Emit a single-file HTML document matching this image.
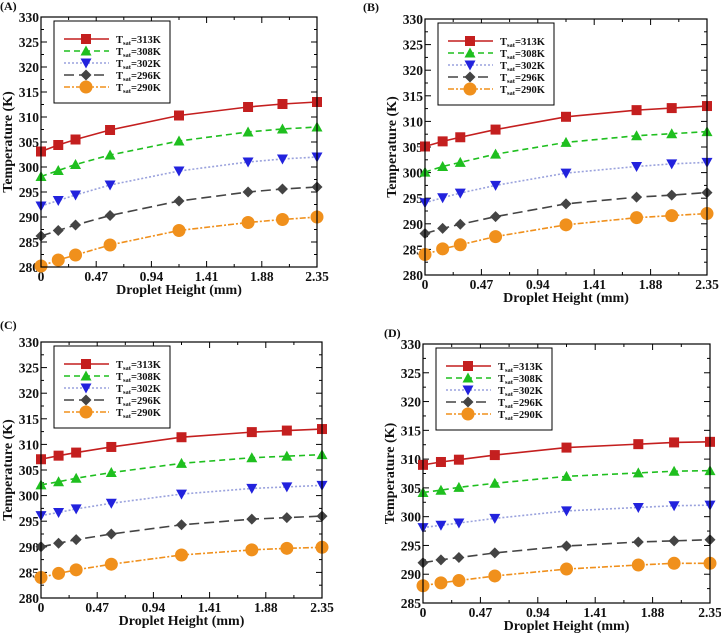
<!DOCTYPE html>
<html><head><meta charset="utf-8"><style>
html,body{margin:0;padding:0;background:#fff;}
svg{display:block;}
text{font-family:"Liberation Serif",serif;font-weight:bold;fill:#111;}
</style></head><body>
<svg id="fig" width="721" height="633" viewBox="0 0 721 633" xmlns="http://www.w3.org/2000/svg"></svg>
<script>
const xValues = [0, 0.147, 0.294, 0.588, 1.175, 1.763, 2.056, 2.35];
const xTicks = [0, 0.47, 0.94, 1.41, 1.88, 2.35];
const xTickLabels = ["0", "0.47", "0.94", "1.41", "1.88", "2.35"];
const seriesNames = ["313K", "308K", "302K", "296K", "290K"];
const panelLabels = ["(A)", "(B)", "(C)", "(D)"];
const panelYMin = [280, 280, 280, 285];
const panelYMax = [330, 330, 330, 330];
const panelA = [
 [303.1,304.4,305.5,307.4,310.3,312,312.6,313],
 [298.1,299.3,300.5,302.4,305.2,307,307.6,308],
 [292.2,293.3,294.4,296.4,299.2,301,301.6,302],
 [286.2,287.3,288.4,290.3,293.2,295,295.6,296],
 [280.2,281.4,282.4,284.4,287.3,288.9,289.5,290]];
const panelB = [
 [305.1,306.1,306.9,308.4,310.9,312.2,312.6,313],
 [300.1,301.2,302,303.6,305.9,307.2,307.6,308],
 [294.1,295.1,296,297.5,299.9,301.2,301.7,302],
 [288.1,289.1,289.9,291.4,293.9,295.2,295.6,296.1],
 [284,285.1,285.9,287.5,289.8,291.2,291.6,292]];
const panelC = [
 [307.1,307.8,308.4,309.5,311.4,312.4,312.7,313],
 [302.1,302.7,303.4,304.5,306.3,307.4,307.7,308],
 [296.1,296.7,297.4,298.5,300.3,301.4,301.7,302],
 [290,290.7,291.4,292.5,294.3,295.4,295.7,296],
 [284,284.8,285.5,286.6,288.4,289.4,289.7,289.9]];
const panelD = [
 [309,309.5,309.9,310.7,312,312.6,312.9,313],
 [304.2,304.6,305.1,305.8,307,307.6,307.9,308],
 [298.1,298.5,298.9,299.7,301,301.6,301.9,302],
 [292,292.5,292.9,293.7,294.9,295.6,295.8,296],
 [288,288.5,288.9,289.7,290.9,291.6,291.9,291.9]];

const panels=[panelA,panelB,panelC,panelD];
const boxes=[{l:41,r:317,t:17,b:267,lx:0,ly:10},{l:425,r:707,t:19,b:275,lx:363,ly:11},{l:41,r:322,t:342,b:598,lx:0,ly:329},{l:423,r:710,t:344,b:603,lx:384,ly:337}];
const styles=[
 {c:"#c41f1f",dash:"",lc:"#c41f1f",m:"square"},
 {c:"#1fbf1f",dash:"6,4",lc:"#1fbf1f",m:"tri"},
 {c:"#2222dd",dash:"2,2",lc:"#9aa2dd",m:"tridown"},
 {c:"#444",dash:"10,5",lc:"#444",m:"diamond"},
 {c:"#f0901c",dash:"6,2,2,2",lc:"#f0901c",m:"circle"}];
const NS="http://www.w3.org/2000/svg";
const svg=document.getElementById('fig');
function el(tag,attrs,parent){const e=document.createElementNS(NS,tag);for(const k in attrs)e.setAttribute(k,attrs[k]);(parent||svg).appendChild(e);return e;}
function marker(g,type,x,y,c){
 let e;
 if(type==="square")e=el('rect',{x:x-5,y:y-5,width:10,height:10,fill:c},g);
 else if(type==="tri")e=el('polygon',{points:`${x},${y-5.5} ${x-5.5},${y+4.5} ${x+5.5},${y+4.5}`,fill:c},g);
 else if(type==="tridown")e=el('polygon',{points:`${x},${y+5.5} ${x-5.5},${y-4.5} ${x+5.5},${y-4.5}`,fill:c},g);
 else if(type==="diamond")e=el('polygon',{points:`${x},${y-5.5} ${x+5.5},${y} ${x},${y+5.5} ${x-5.5},${y}`,fill:c},g);
 else e=el('circle',{cx:x,cy:y,r:6.5,fill:c},g);
 return e;
}
panels.forEach((data,pi)=>{
 const B=boxes[pi],ymin=panelYMin[pi],ymax=panelYMax[pi];
 const sx=v=>B.l+(v-0)/2.35*(B.r-B.l);
 const sy=v=>B.b-(v-ymin)/(ymax-ymin)*(B.b-B.t);
 const g=el('g',{});
 
 
 const lab=el('text',{x:B.lx,y:B.ly,'font-size':12},g);lab.textContent=panelLabels[pi];
 
 xTicks.forEach((t,i)=>{
  const x=sx(t);
  el('line',{x1:x,x2:x,y1:B.b,y2:B.b-6,stroke:'#000','stroke-width':1},g);
  el('line',{x1:x,x2:x,y1:B.t,y2:B.t+6,stroke:'#000','stroke-width':1},g);
  if(i<xTicks.length-1){const xm=sx(t+0.235);el('line',{x1:xm,x2:xm,y1:B.b,y2:B.b-3,stroke:'#000'},g);el('line',{x1:xm,x2:xm,y1:B.t,y2:B.t+3,stroke:'#000'},g);}
  const tx=el('text',{x:x,y:B.b+14,'font-size':13.5,'text-anchor':'middle'},g);tx.textContent=xTickLabels[i];
  
 });
 for(let v=ymin;v<=ymax;v+=5){
  const y=sy(v);
  el('line',{x1:B.l,x2:B.l+6,y1:y,y2:y,stroke:'#000'},g);
  el('line',{x1:B.r,x2:B.r-6,y1:y,y2:y,stroke:'#000'},g);
  if(v<ymax){const ym=sy(v+2.5);el('line',{x1:B.l,x2:B.l+3,y1:ym,y2:ym,stroke:'#000'},g);el('line',{x1:B.r,x2:B.r-3,y1:ym,y2:ym,stroke:'#000'},g);}
  const ty=el('text',{x:B.l-2,y:y+5,'font-size':13.5,'text-anchor':'end'},g);ty.textContent=v;
  
 }
 const xt=el('text',{x:(B.l+B.r)/2,y:B.b+27,'font-size':14,'text-anchor':'middle'},g);xt.textContent="Droplet Height (mm)";
 
 const cy=(B.t+B.b)/2;
 const yt=el('text',{x:B.l-29,y:cy,'font-size':14,'text-anchor':'middle',transform:`rotate(-90 ${B.l-29} ${cy})`},g);yt.textContent="Temperature (K)";
 
 data.forEach((vals,si)=>{
  const s=styles[si];
  const pts=vals.map((v,i)=>sx(xValues[i])+','+sy(v)).join(' ');
  const pl=el('polyline',{points:pts,fill:'none',stroke:s.lc,'stroke-width':1.6,'stroke-dasharray':s.dash},g);
  
  vals.forEach((v,i)=>{const m=marker(g,s.m,sx(xValues[i]),sy(v),s.c);
   });
 });
 el('rect',{x:B.l,y:B.t,width:B.r-B.l,height:B.b-B.t,fill:'none',stroke:'#000','stroke-width':1.2},g);
 const lg=el('g',{},g);
 
 const LX=B.l+13,LY=B.t+4;
 el('rect',{x:LX,y:LY,width:116,height:82,fill:'#fff',stroke:'#000','stroke-width':1},lg);
 seriesNames.forEach((n,si)=>{
  const s=styles[si],y=LY+18+si*12;
  const e=el('g',{},lg);
  
  el('line',{x1:LX+10,x2:LX+55,y1:y,y2:y,stroke:s.lc,'stroke-width':1.6,'stroke-dasharray':s.dash},e);
  marker(e,s.m,LX+32,y,s.c);
  const t=el('text',{x:LX+62,y:y+4,'font-size':10.5},e);
  t.innerHTML='T<tspan font-size="6.5" dy="2">sat</tspan><tspan dy="-2">='+n+'</tspan>';
 });
});
</script>
</body></html>
